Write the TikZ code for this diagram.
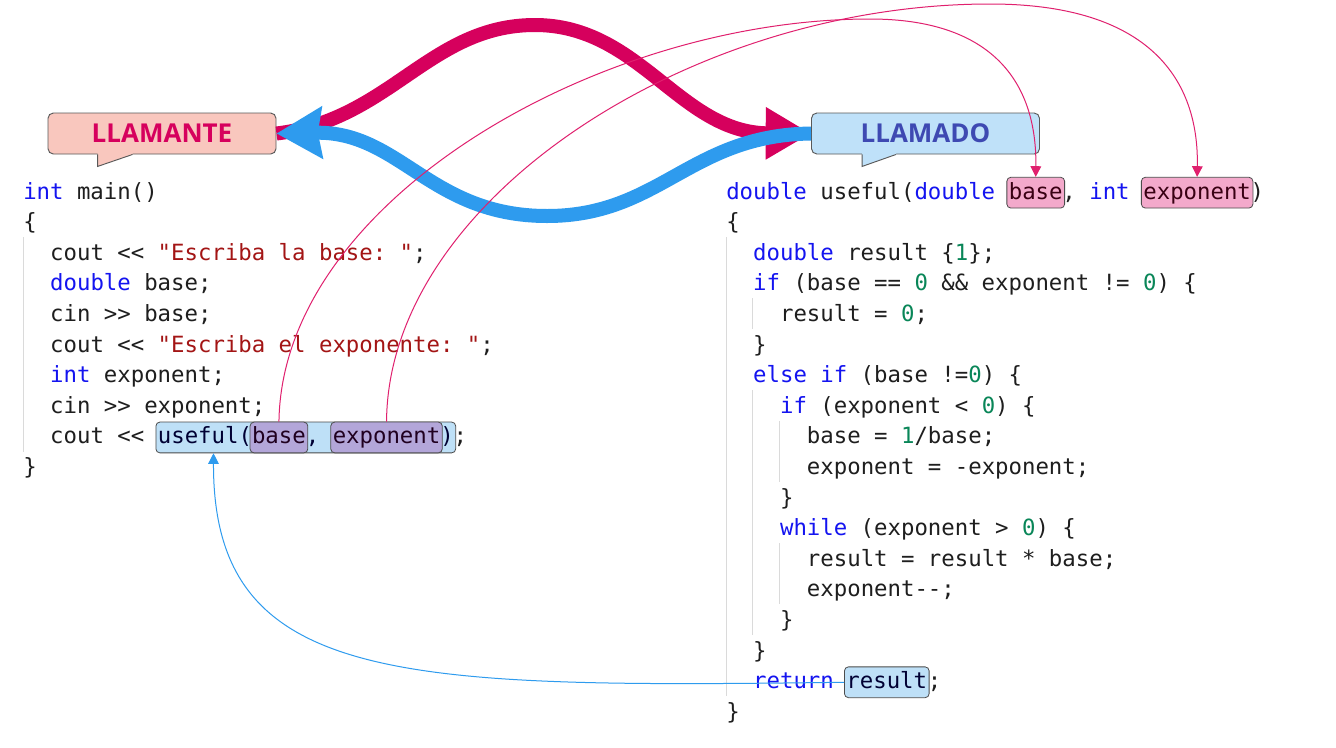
\documentclass[tikz,border=0pt]{standalone}
\usepackage{fontspec}
\setmonofont{DejaVu Sans Mono}
\newfontfamily\labelfont{Open Sans}
\usetikzlibrary{arrows.meta,calc}

\definecolor{kwcol}{HTML}{1414F0}
\definecolor{strcol}{HTML}{A31515}
\definecolor{numcol}{HTML}{098658}
\definecolor{txtcol}{HTML}{1E1E1E}
\definecolor{callpink}{HTML}{D6005D}
\definecolor{retblue}{HTML}{2E9BEE}
\definecolor{thinpink}{HTML}{E0206E}
\definecolor{callerfill}{HTML}{F9C7BE}
\definecolor{calleefill}{HTML}{BFE1F9}
\definecolor{calleetext}{HTML}{3E49B2}
\definecolor{callfill}{HTML}{BEE0F7}
\definecolor{argfill}{HTML}{B3A6D9}
\definecolor{parfill}{HTML}{F3A9CB}
\definecolor{guidecol}{HTML}{DADADA}

\newcommand{\codefont}{\frenchspacing\ttfamily\fontsize{16.75pt}{20pt}\selectfont}
\newcommand{\kwd}[1]{\textcolor{kwcol}{#1}}
\newcommand{\strg}[1]{\textcolor{strcol}{#1}}
\newcommand{\numb}[1]{\textcolor{numcol}{#1}}

\tikzset{
  code/.style={anchor=base west, inner sep=0pt, font=\codefont, text=txtcol},
  hl/.style={code, draw=black!70, line width=0.6pt, rounded corners=3pt,
    inner xsep=1.5pt, inner ysep=1.3pt, text height=15pt, text depth=5.5pt},
  callbox/.style={hl, fill=callfill, text=black!80!blue},
  argbox/.style={hl, fill=argfill, text=black!75!violet},
  parbox/.style={hl, fill=parfill, text=black!70!purple},
  callout/.style={draw=black!65, line width=0.7pt, rounded corners=4pt,
    minimum width=171pt, minimum height=30.75pt, inner sep=0pt,
    font=\labelfont\bfseries\fontsize{19.5pt}{20pt}\selectfont},
  guide/.style={draw=guidecol, line width=0.75pt},
  callarrow/.style={draw=callpink, line width=10.5pt,
    -{Triangle[length=34pt,width=37pt]}},
  retarrow/.style={draw=retblue, line width=10.5pt,
    -{Stealth[length=34pt,width=38pt,inset=3pt]}},
  argline/.style={draw=thinpink, line width=0.75pt,
    -{Triangle[length=8pt,width=8pt]}},
  retline/.style={draw=retblue, line width=0.75pt,
    -{Triangle[length=8pt,width=8pt]}}
}

\begin{document}
\begin{tikzpicture}[x=0.75pt,y=-0.75pt]
\useasboundingbox (0,0) rectangle (1336,747);
\fill[white] (0,0) rectangle (1336,747);

\def\by{199}
\def\lh{30.6}
\def\cw{13.45}
\def\lx{23}
\def\rx{726}

% callouts
\node[callout, fill=callerfill, text=callpink] (llamante) at (162,133.5) {LLAMANTE};
\fill[callerfill] ($(llamante.south west)+(50,-1.5)$) -- ($(llamante.south west)+(50,12)$)
  -- ($(llamante.south west)+(85,0)$) -- ($(llamante.south west)+(85,-1.5)$) -- cycle;
\draw[black!65, line width=0.7pt] ($(llamante.south west)+(50,0)$) -- ($(llamante.south west)+(50,12)$)
  -- ($(llamante.south west)+(85,0)$);

\node[callout, fill=calleefill, text=calleetext] (llamado) at (925.5,133.5) {LLAMADO};
\fill[calleefill] ($(llamado.south west)+(51,-1.5)$) -- ($(llamado.south west)+(51,12)$)
  -- ($(llamado.south west)+(85,0)$) -- ($(llamado.south west)+(85,-1.5)$) -- cycle;
\draw[black!65, line width=0.7pt] ($(llamado.south west)+(51,0)$) -- ($(llamado.south west)+(51,12)$)
  -- ($(llamado.south west)+(85,0)$);

% indent guides
\draw[guide] (\lx,237) -- (\lx,452);
\draw[guide] (\rx,237) -- (\rx,696);
\draw[guide] ({\rx+2*\cw},298) -- ({\rx+2*\cw},329);
\draw[guide] ({\rx+2*\cw},390) -- ({\rx+2*\cw},635);
\draw[guide] ({\rx+4*\cw},421) -- ({\rx+4*\cw},482);
\draw[guide] ({\rx+4*\cw},543) -- ({\rx+4*\cw},604);

% caller
\node[code] (l1) at (\lx,{\by}) {\kwd{int} main()};
\node[code] (l2) at (\lx,{\by+\lh}) {\{};
\node[code] (l3) at ({\lx+2*\cw},{\by+2*\lh}) {cout << \strg{"Escriba la base: "};};
\node[code] (l4) at ({\lx+2*\cw},{\by+3*\lh}) {\kwd{double} base;};
\node[code] (l5) at ({\lx+2*\cw},{\by+4*\lh}) {cin >> base;};
\node[code] (l6) at ({\lx+2*\cw},{\by+5*\lh}) {cout << \strg{"Escriba el exponente: "};};
\node[code] (l7) at ({\lx+2*\cw},{\by+6*\lh}) {\kwd{int} exponent;};
\node[code] (l8) at ({\lx+2*\cw},{\by+7*\lh}) {cin >> exponent;};
\node[code] (l9) at ({\lx+2*\cw},{\by+8*\lh}) {cout << \phantom{useful(base, exponent)};};
\node[code] (l10) at (\lx,{\by+9*\lh}) {\}};

\node[callbox] (call) at ({\lx+10*\cw-2},{\by+8*\lh}) {useful(\phantom{base}, \phantom{exponent})};
\node[argbox] (argbase) at ({\lx+17*\cw-2},{\by+8*\lh}) {base};
\node[argbox] (argexp) at ({\lx+23*\cw-2},{\by+8*\lh}) {exponent};

% callee
\node[code] (r1) at (\rx,{\by}) {\kwd{double} useful(\kwd{double} \phantom{base}, \kwd{int} \phantom{exponent})};
\node[code] (r2) at (\rx,{\by+\lh}) {\{};
\node[code] (r3) at ({\rx+2*\cw},{\by+2*\lh}) {\kwd{double} result \{\numb{1}\};};
\node[code] (r4) at ({\rx+2*\cw},{\by+3*\lh}) {\kwd{if} (base == \numb{0} \&\& exponent != \numb{0}) \{};
\node[code] (r5) at ({\rx+4*\cw},{\by+4*\lh}) {result = \numb{0};};
\node[code] (r6) at ({\rx+2*\cw},{\by+5*\lh}) {\}};
\node[code] (r7) at ({\rx+2*\cw},{\by+6*\lh}) {\kwd{else if} (base !=\numb{0}) \{};
\node[code] (r8) at ({\rx+4*\cw},{\by+7*\lh}) {\kwd{if} (exponent < \numb{0}) \{};
\node[code] (r9) at ({\rx+6*\cw},{\by+8*\lh}) {base = \numb{1}/base;};
\node[code] (r10) at ({\rx+6*\cw},{\by+9*\lh}) {exponent = -exponent;};
\node[code] (r11) at ({\rx+4*\cw},{\by+10*\lh}) {\}};
\node[code] (r12) at ({\rx+4*\cw},{\by+11*\lh}) {\kwd{while} (exponent > \numb{0}) \{};
\node[code] (r13) at ({\rx+6*\cw},{\by+12*\lh}) {result = result * base;};
\node[code] (r14) at ({\rx+6*\cw},{\by+13*\lh}) {exponent--;};
\node[code] (r15) at ({\rx+4*\cw},{\by+14*\lh}) {\}};
\node[code] (r16) at ({\rx+2*\cw},{\by+15*\lh}) {\}};
\node[code] (r17) at ({\rx+2*\cw},{\by+16*\lh}) {\kwd{return} \phantom{result};};
\node[code] (r18) at (\rx,{\by+17*\lh}) {\}};

\node[parbox] (parbase) at ({\rx+21*\cw-2},{\by}) {base};
\node[parbox] (parexp) at ({\rx+31*\cw-2},{\by}) {exponent};
\node[callbox] (ret) at ({\rx+9*\cw-3},{\by+16*\lh}) {result};

% big arrows
\draw[callarrow] (llamante.east) .. controls (390,120) and (430,25) .. (535,25)
  .. controls (640,25) and (680,133) .. (llamado.west);
\draw[retarrow] (llamado.west) .. controls (690,135) and (660,216) .. (547,216)
  .. controls (430,216) and (400,131) .. (llamante.east);

% arguments and return value
\draw[argline] (argbase.north) .. controls (282,200) and (600,19) .. (870,19)
  .. controls (990,19) and (1037,80) .. (parbase.north);
\draw[argline] (argexp.north) .. controls (388,200) and (690,4) .. (990,4)
  .. controls (1150,4) and (1199,80) .. (parexp.north);
\draw[retline] (ret.west) .. controls (400,688) and (213,685) .. ($(call.south west)+(58,0)$);
\end{tikzpicture}
\end{document}
